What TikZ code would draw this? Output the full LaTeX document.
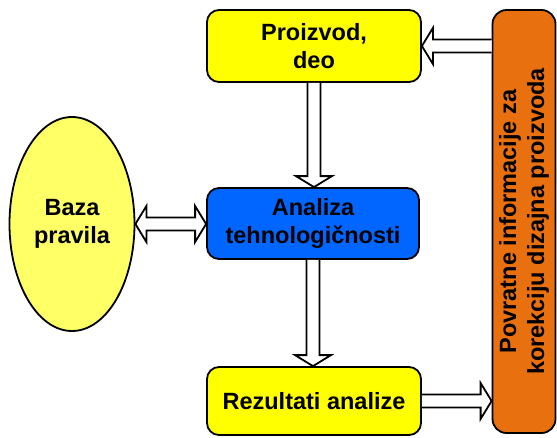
\documentclass[tikz,border=0pt]{standalone}
\usepackage{fontspec}
\setmainfont{Liberation Sans}
\usetikzlibrary{calc,shapes.geometric}

\definecolor{boxyellow}{HTML}{FFFF00}
\definecolor{ruleyellow}{HTML}{FFFF66}
\definecolor{analysisblue}{HTML}{0066FF}
\definecolor{feedbackorange}{HTML}{E8700F}

% hollow block arrow from #1 to #2 (shaft 13pt, head 36pt wide, 11pt long)
\newcommand\hollowarrow[2]{%
  \draw[hollow] let \p1=(#1), \p2=(#2),
      \n1={atan2(\y2-\y1,\x2-\x1)}, \n2={veclen(\x2-\x1,\y2-\y1)} in
    [shift={(\p1)}, rotate=\n1]
    (0pt,-6.5pt) -- ({\n2-11pt},-6.5pt) -- ({\n2-11pt},-18pt) -- (\n2,0pt)
    -- ({\n2-11pt},18pt) -- ({\n2-11pt},6.5pt) -- (0pt,6.5pt);
}
% hollow block arrow with heads at both ends
\newcommand\hollowdoublearrow[2]{%
  \draw[hollow] let \p1=(#1), \p2=(#2),
      \n1={atan2(\y2-\y1,\x2-\x1)}, \n2={veclen(\x2-\x1,\y2-\y1)} in
    [shift={(\p1)}, rotate=\n1]
    (11pt,-6.5pt) -- ({\n2-11pt},-6.5pt) -- ({\n2-11pt},-18pt) -- (\n2,0pt)
    -- ({\n2-11pt},18pt) -- ({\n2-11pt},6.5pt) -- (11pt,6.5pt) -- (11pt,18pt)
    -- (0pt,0pt) -- (11pt,-18pt) -- cycle;
}

\begin{document}
\begin{tikzpicture}[x=1pt,y=-1pt,
  label text/.style={font=\bfseries\fontsize{23.5}{28}\selectfont, align=center},
  box/.style={label text, draw=black, line width=1.8pt, rounded corners=12pt, inner sep=0pt},
  hollow/.style={draw=black, fill=white, line width=1.8pt, line join=miter}]
\useasboundingbox (0,0) rectangle (557,437);

% process blocks
\node[box, fill=boxyellow, minimum width=214pt, minimum height=72pt]
  (prod) at (314,46) {Proizvod,\\deo};
\node[box, fill=analysisblue, minimum width=212pt, minimum height=71pt]
  (anal) at (313,223.5) {Analiza\\tehnologičnosti};
\node[box, fill=boxyellow, minimum width=214pt, minimum height=68pt]
  (rez) at (314,401) {Rezultati analize};

% rule base
\node[label text, ellipse, draw=black, line width=1.8pt, fill=ruleyellow,
  minimum width=125pt, minimum height=214pt, inner sep=0pt]
  (baza) at (72,224) {Baza\\pravila};

% feedback column (text reads bottom to top)
\node[box, fill=feedbackorange, rounded corners=14pt, rotate=90,
  minimum width=423pt, minimum height=63pt]
  (fb) at (524,221.5) {Povratne informacije za\\korekciju dizajna proizvoda};

% connectors
\hollowarrow{prod.south}{prod.south |- anal.north}
\hollowarrow{anal.south}{anal.south |- rez.north}
\hollowdoublearrow{baza.east}{baza.east -| anal.west}
\hollowarrow{rez.east}{rez.east -| fb.north}
\hollowarrow{prod.east -| fb.north}{prod.east}
\end{tikzpicture}
\end{document}
